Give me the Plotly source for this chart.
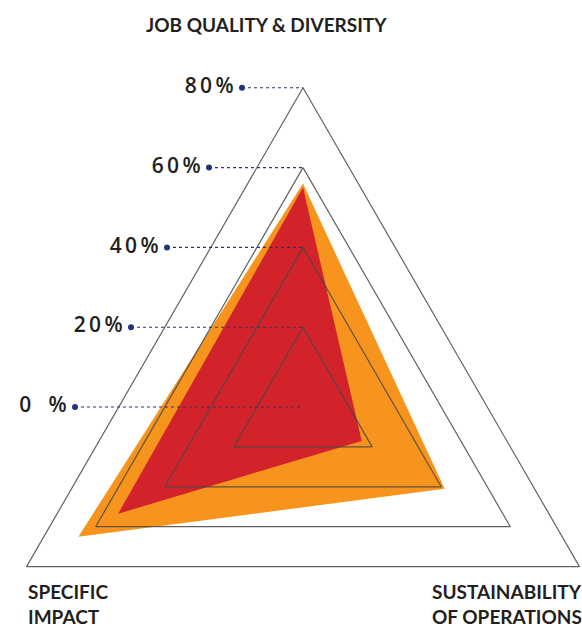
import math
import plotly.graph_objects as go

# ---- data ----
categories = ["JOB QUALITY & DIVERSITY", "SPECIFIC IMPACT", "SUSTAINABILITY OF OPERATIONS"]
category_labels = ["JOB QUALITY & DIVERSITY", "SPECIFIC<br>IMPACT", "SUSTAINABILITY<br>OF OPERATIONS"]
series_orange = [56, 65, 41]
series_red = [55, 53.5, 17]
tick_values = [0, 20, 40, 60, 80]
tick_labels = ["0\u2002\u2009\u2009%", "2\u20090\u2009%", "4\u20090\u2009%", "6\u20090\u2009%", "8\u20090\u2009%"]

# ---- styling / layout ----
W, H = 582, 630
CX, CY = 303, 407          # pixel centre of the radar
S = 3.99                   # pixels per percentage point
angles = [90, 210, 330]    # axis directions (degrees)
leader_start_px = [75, 131, 167, 209, 242]

ORANGE = "#F7941D"
RED = "#D2232A"
GRID = "rgba(70,70,70,0.85)"
NAVY = "#25347A"
TEXT = "#231F20"


def to_xy(values):
    xs = [v * math.cos(math.radians(a)) for v, a in zip(values, angles)]
    ys = [v * math.sin(math.radians(a)) for v, a in zip(values, angles)]
    return xs + xs[:1], ys + ys[:1]


fig = go.Figure()

for vals, col in [(series_orange, ORANGE), (series_red, RED)]:
    x, y = to_xy(vals)
    fig.add_trace(go.Scatter(x=x, y=y, mode="lines", fill="toself", fillcolor=col,
                             line=dict(width=0, color=col), hoverinfo="skip", showlegend=False))

for t in tick_values[1:]:
    x, y = to_xy([t] * 3)
    fig.add_trace(go.Scatter(x=x, y=y, mode="lines", line=dict(color=GRID, width=1.2),
                             hoverinfo="skip", showlegend=False))

# leader lines with dots and tick labels
for t, lab, px in zip(tick_values, tick_labels, leader_start_px):
    x0 = (px - CX) / S
    fig.add_trace(go.Scatter(x=[x0, 0], y=[t, t], mode="lines",
                             line=dict(color=NAVY, width=1.1, dash="dot"),
                             hoverinfo="skip", showlegend=False))
    fig.add_trace(go.Scatter(x=[x0], y=[t], mode="markers+text",
                             marker=dict(color=NAVY, size=6),
                             text=[lab + "\u2009"], textposition="middle left",
                             textfont=dict(family="Open Sans", size=21, color=TEXT, weight=600),
                             hoverinfo="skip", showlegend=False))

# category labels
fig.add_annotation(text="<b>" + category_labels[0] + "</b>", xref="paper", yref="paper",
                   x=266 / W, y=1 - 25 / H, xanchor="center", yanchor="middle", showarrow=False,
                   font=dict(family="Lato", size=19, color=TEXT))
fig.add_annotation(text="<b>" + category_labels[1] + "</b>", xref="paper", yref="paper",
                   x=26 / W, y=1 - 604 / H, xanchor="left", yanchor="middle", align="left",
                   showarrow=False, font=dict(family="Lato", size=19, color=TEXT))
fig.add_annotation(text="<b>" + category_labels[2] + "</b>", xref="paper", yref="paper",
                   x=430 / W, y=1 - 604 / H, xanchor="left", yanchor="middle", align="left",
                   showarrow=False, font=dict(family="Lato", size=19, color=TEXT))

fig.update_layout(
    width=W, height=H, margin=dict(l=0, r=0, t=0, b=0),
    paper_bgcolor="white", plot_bgcolor="white",
    xaxis=dict(range=[-CX / S, (W - CX) / S], visible=False, fixedrange=True),
    yaxis=dict(range=[-(H - CY) / S, CY / S], visible=False, fixedrange=True),
    showlegend=False,
)

fig.write_html("out.html")
